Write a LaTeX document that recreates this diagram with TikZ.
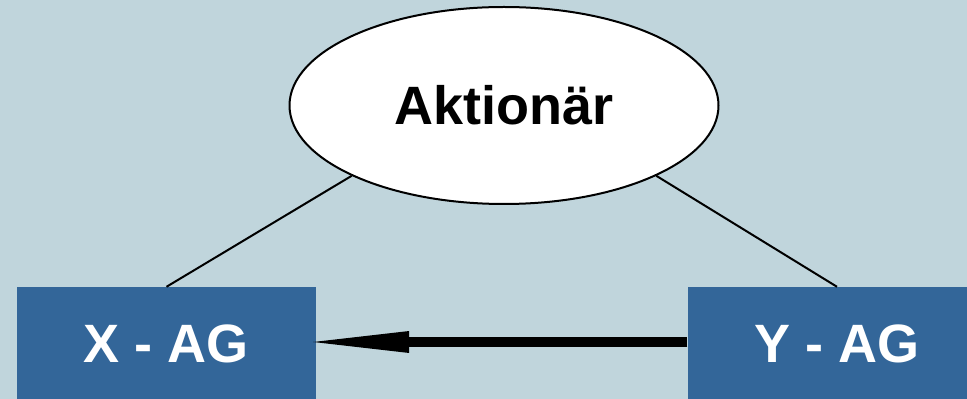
\documentclass[tikz,border=0pt]{standalone}
\usepackage{fontspec}
\setmainfont{Liberation Sans}
\usetikzlibrary{shapes.geometric,arrows.meta}
\definecolor{bgblue}{HTML}{C0D5DC}
\definecolor{boxblue}{HTML}{336699}
\begin{document}
\begin{tikzpicture}[x=1pt,y=1pt,
  company/.style={fill=boxblue, draw=none, minimum width=299pt, minimum height=114pt,
    inner sep=0pt, text=white, font=\fontsize{54}{60}\selectfont\bfseries},
  holder/.style={ellipse, draw=black, line width=2pt, fill=white, minimum width=429pt,
    minimum height=197pt, inner sep=0pt, font=\fontsize{54}{60}\selectfont\bfseries},
  link/.style={draw=black, line width=2pt},
  transfer/.style={draw=black, line width=10pt, shorten >=-3pt,
    -{Triangle[length=96pt,width=22pt,line width=0pt]}}]
  \useasboundingbox (0,0) rectangle (967,399);
  \clip (0,0) rectangle (967,399);
  \fill[bgblue] (0,0) rectangle (967,399);
  % shareholder on top, two companies below
  \node[holder] (aktionaer) at (504,293.5) {Aktionär};
  \node[company] (xag) at (166.5,55) {X - AG};
  \node[company] (yag) at (837,55) {Y - AG};
  % ownership links
  \draw[link] (xag.north) -- (aktionaer.south west);
  \draw[link] (yag.north) -- (aktionaer.south east);
  % transfer from Y - AG to X - AG
  \draw[transfer] ([yshift=2pt]yag.west) -- ([yshift=2pt]xag.east);
\end{tikzpicture}
\end{document}
